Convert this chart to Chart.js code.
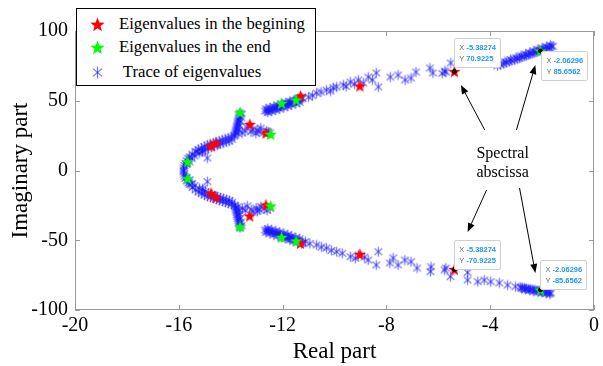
<!DOCTYPE html>
<html>
<head>
<meta charset="utf-8">
<script src="https://cdn.jsdelivr.net/npm/chart.js@4.4.0/dist/chart.umd.min.js"></script>
<style>
  body { margin: 0; background: #fff; }
  #wrap { position: relative; width: 603px; height: 366px; font-family: 'Liberation Serif', 'Times New Roman', serif; }
  .legend { position: absolute; left: 76px; top: 8px; width: 238px; height: 76px; border: 1px solid #000; background: #fff;
            font-family: 'Liberation Serif', 'Times New Roman', serif; font-size: 16px; }
  .legend .row { position: absolute; left: 0; width: 100%; height: 20px; line-height: 20px; }
  .legend img { position: absolute; top: 2px; }
  .legend span { position: absolute; left: 42px; white-space: pre; font-family: 'Liberation Serif', serif; }
  .tip { position: absolute; background: rgba(255,255,255,0.96); border: 1px solid #d0d0d0; border-radius: 2px;
         font: 7.5px 'Liberation Sans', Arial, sans-serif; line-height: 11px; padding: 3px 4px; white-space: nowrap; }
  .tip i { font-style: normal; color: #666; }
  .tip b { color: #1e96f0; }
  .note { position: absolute; font-family: 'Liberation Serif', 'Times New Roman', serif; font-size: 16px; text-align: center; line-height: 19px; width: 90px; }
</style>
</head>
<body>
<div id="wrap">
  <canvas id="chart" width="603" height="366"></canvas>
</div>
<script>
// eigenvalues at the start (red) and at the end (green)
const startEig = [
  [-5.38274, 70.9225], [-9.02, 60.6], [-11.31, 53.4], [-12.64, 26.9], [-13.26, 33.1], [-14.57, 19.7], [-14.76, 17.6],
  [-5.38274, -70.9225], [-9.02, -60.1], [-11.31, -52.2], [-12.64, -24.7], [-13.27, -32.6], [-14.57, -19.2], [-14.76, -16.3]
];
const endEig = [
  [-2.06296, 85.6562], [-11.48, 50.5], [-12.04, 48.2], [-12.46, 25.9], [-13.64, 41.4], [-15.66, 6.3],
  [-2.06296, -85.6562], [-11.48, -50.5], [-12.04, -47.9], [-12.46, -25.4], [-13.64, -40.3], [-15.66, -5.8]
];

// trace of eigenvalues, upper half
const traceUpperLeft = [
  [-15.82, 0.4], [-15.80, 2.0], [-15.78, 3.6], [-15.75, 5.2], [-15.70, 7.0], [-15.64, 8.6], [-15.59, 9.7], [-15.48, 11.8],
  [-15.36, 13.6], [-15.25, 15.1], [-15.13, 16.1], [-15.02, 17.2], [-14.90, 18.3], [-14.79, 19.0], [-14.67, 19.7],
  [-14.56, 20.4], [-14.44, 21.1], [-14.33, 21.9], [-14.21, 22.6], [-14.10, 23.3], [-13.98, 24.0], [-13.87, 24.7],
  [-15.70, 4.4], [-15.59, 6.1], [-15.50, 8.8], [-15.40, 10.4], [-15.21, 12.5], [-15.08, 14.2], [-14.98, 14.7],
  [-14.86, 16.0], [-14.75, 16.8], [-14.62, 17.6], [-14.52, 18.3], [-14.40, 19.1], [-14.29, 19.7], [-14.17, 20.5],
  [-14.06, 21.1], [-13.95, 22.3], [-14.90, 9.0], [-15.10, 13.3], [-15.30, 13.5],
  [-13.64, 41.2], [-13.66, 39.8], [-13.68, 38.4], [-13.70, 37.0], [-13.72, 35.5], [-13.74, 34.1], [-13.76, 32.6],
  [-13.77, 31.2], [-13.79, 29.7], [-13.81, 28.3], [-13.83, 26.9], [-13.84, 25.4],
  [-13.58, 40.5], [-13.60, 37.8], [-13.63, 35.0], [-13.66, 32.0], [-13.69, 29.2], [-13.72, 26.5],
  [-13.56, 26.9], [-13.45, 28.3], [-13.37, 31.2], [-13.22, 27.8], [-13.15, 29.5], [-13.03, 26.7], [-12.98, 29.0],
  [-12.91, 27.8], [-12.84, 30.5], [-12.72, 27.1], [-12.61, 28.3], [-12.55, 27.6], [-12.49, 26.9]
];
const traceUpperMid = [
  [-12.68, 42.6], [-12.61, 43.0], [-12.53, 43.4], [-12.45, 43.7], [-12.38, 44.1], [-12.30, 44.8], [-12.22, 45.2],
  [-12.15, 45.5], [-12.07, 46.2], [-11.99, 46.6], [-11.92, 47.0], [-11.84, 47.7], [-11.76, 48.0], [-11.69, 48.4],
  [-11.61, 49.1], [-11.53, 49.5], [-11.46, 50.2], [-11.38, 50.5], [-11.30, 51.3], [-11.23, 51.6],
  [-12.64, 44.3], [-12.49, 45.0], [-12.34, 45.9], [-12.19, 46.8], [-12.03, 47.8], [-11.88, 48.6], [-11.72, 49.6],
  [-11.57, 50.4], [-11.42, 51.3], [-11.27, 52.3],
  [-12.57, 41.6], [-12.42, 42.4], [-12.26, 43.3], [-12.11, 44.1], [-11.95, 45.2], [-11.80, 46.0], [-11.65, 47.0],
  [-11.49, 47.9], [-11.34, 48.8],
  [-11.00, 52.7], [-10.85, 53.6], [-10.69, 55.6], [-10.52, 56.2], [-10.31, 57.7], [-10.15, 57.0], [-10.05, 59.4],
  [-9.92, 59.9], [-9.66, 61.3], [-9.55, 60.3], [-9.39, 63.4], [-9.23, 62.0], [-9.08, 64.9], [-8.89, 62.7],
  [-8.70, 67.0], [-8.54, 64.9], [-8.39, 69.9], [-8.31, 59.9], [-7.85, 67.0], [-7.55, 68.5], [-7.28, 64.9],
  [-7.05, 66.3], [-6.86, 70.6], [-6.32, 73.5], [-6.21, 69.9], [-5.71, 70.6], [-5.52, 77.1]
];
const traceUpperRight = [
  [-5.75, 71.3], [-5.85, 69.6],
  [-3.72, 75.0], [-3.60, 75.9], [-3.48, 76.5], [-3.38, 77.4], [-3.27, 78.1], [-3.17, 78.6], [-3.06, 79.4],
  [-2.96, 80.1], [-2.87, 80.6], [-2.78, 81.3], [-2.69, 81.9], [-2.60, 82.4], [-2.52, 83.0], [-2.44, 83.6],
  [-2.36, 84.1], [-2.28, 84.6], [-2.20, 85.1], [-2.12, 85.6], [-2.04, 86.2], [-1.96, 86.7], [-1.88, 87.2],
  [-1.80, 87.7], [-1.72, 88.3], [-1.64, 88.8], [-1.58, 89.1],
  [-3.66, 76.6], [-3.43, 78.0], [-3.22, 79.6], [-3.01, 80.9], [-2.82, 82.2], [-2.64, 83.5], [-2.48, 84.6],
  [-2.32, 85.7], [-2.16, 86.8], [-2.00, 87.8], [-1.84, 88.9], [-1.68, 89.9]
];

// trace of eigenvalues, lower half
const traceLowerLeft = [
  [-15.82, -0.8], [-15.80, -2.4], [-15.78, -4.0], [-15.75, -5.6], [-15.70, -7.4], [-15.64, -9.0], [-15.58, -10.1],
  [-15.47, -12.2], [-15.35, -14.0], [-15.24, -15.4], [-15.12, -16.5], [-15.01, -17.6], [-14.89, -18.6], [-14.78, -19.3],
  [-14.66, -20.0], [-14.55, -20.8], [-14.43, -21.5], [-14.32, -22.2], [-14.20, -22.9], [-14.09, -23.6], [-13.97, -24.3],
  [-13.86, -25.0],
  [-15.70, -4.8], [-15.58, -6.6], [-15.49, -9.2], [-15.39, -10.8], [-15.20, -12.9], [-15.07, -14.6], [-14.97, -15.1],
  [-14.85, -16.4], [-14.74, -17.2], [-14.61, -18.0], [-14.51, -18.7], [-14.39, -19.5], [-14.28, -20.1], [-14.16, -20.9],
  [-14.05, -21.5], [-13.94, -22.6], [-14.90, -8.0], [-15.08, -13.0],
  [-13.83, -25.6], [-13.82, -27.1], [-13.80, -28.6], [-13.78, -30.0], [-13.76, -31.5], [-13.75, -32.9], [-13.73, -34.4],
  [-13.71, -35.8], [-13.69, -37.3], [-13.67, -38.7], [-13.65, -40.1], [-13.64, -41.0],
  [-13.58, -39.6], [-13.60, -36.9], [-13.63, -34.0], [-13.66, -31.0], [-13.69, -28.3], [-13.72, -25.9],
  [-13.55, -27.2], [-13.44, -28.6], [-13.36, -25.4], [-13.21, -28.1], [-13.14, -29.8], [-13.02, -27.0], [-12.97, -29.2],
  [-12.90, -28.2], [-12.83, -25.8], [-12.71, -27.5], [-12.60, -28.6], [-12.48, -27.2]
];
const traceLowerMid = [
  [-12.68, -42.7], [-12.61, -43.1], [-12.53, -43.4], [-12.45, -43.8], [-12.38, -44.2], [-12.30, -44.8], [-12.22, -45.2],
  [-12.15, -45.5], [-12.07, -46.1], [-11.99, -46.6], [-11.92, -47.0], [-11.84, -47.6], [-11.76, -48.0], [-11.69, -48.4],
  [-11.61, -49.1], [-11.53, -49.5], [-11.46, -50.1], [-11.38, -50.5], [-11.30, -51.1], [-11.23, -51.6],
  [-12.64, -44.4], [-12.49, -45.1], [-12.34, -46.0], [-12.19, -46.9], [-12.03, -47.9], [-11.88, -48.7], [-11.72, -49.7],
  [-11.57, -50.5], [-11.42, -51.4], [-11.27, -52.4],
  [-12.57, -41.7], [-12.42, -42.5], [-12.26, -43.4], [-12.11, -44.2], [-11.95, -45.3], [-11.80, -46.1], [-11.65, -47.1],
  [-11.49, -48.0], [-11.34, -48.9],
  [-11.12, -51.0], [-10.95, -52.4], [-10.69, -53.4], [-10.50, -54.9], [-10.31, -55.6], [-10.12, -57.3], [-9.92, -58.2],
  [-9.70, -59.4], [-9.39, -61.8], [-9.08, -60.6], [-9.20, -63.0], [-8.70, -64.2], [-8.85, -62.1], [-8.39, -67.7],
  [-8.31, -58.2], [-7.87, -66.3], [-7.74, -62.7], [-7.55, -67.7], [-7.29, -64.2], [-7.05, -65.4], [-6.82, -69.9],
  [-6.28, -69.0], [-6.30, -72.5], [-5.71, -69.9], [-5.53, -76.1]
];
const traceLowerRight = [
  [-5.76, -71.3], [-4.87, -73.1], [-4.87, -78.5], [-4.48, -79.7], [-4.23, -78.5], [-3.98, -79.7], [-3.65, -80.6],
  [-3.33, -82.1], [-3.03, -83.3],
  [-2.84, -83.6], [-2.76, -84.0], [-2.68, -84.3], [-2.60, -84.6], [-2.52, -84.9], [-2.44, -85.1], [-2.36, -85.4],
  [-2.28, -85.6], [-2.20, -85.9], [-2.12, -86.2], [-2.04, -86.5], [-1.96, -86.7], [-1.88, -87.0], [-1.80, -87.2],
  [-1.72, -87.5], [-1.66, -87.7],
  [-2.80, -84.6], [-2.64, -85.3], [-2.48, -85.9], [-2.32, -86.5], [-2.16, -87.1], [-2.00, -87.6], [-1.84, -88.1],
  [-1.70, -88.6]
];

// data tips (spectral abscissa) and the annotation arrows
const tipPoints = [[-5.38274, 70.9225], [-2.06296, 85.6562], [-5.38274, -70.9225], [-2.06296, -85.6562]];
const tipOffsets = [[0, -34], [1, 0], [0, -29], [0, -30]];
const arrows = [
  [[-4.21, 29.0], [-5.13, 61.3]],
  [[-2.99, 29.0], [-2.26, 75.6]],
  [[-4.14, -14.0], [-4.87, -44.1]],
  [[-2.87, -12.5], [-2.26, -73.5]]
];

const legendLabels = ['Eigenvalues in the begining', 'Eigenvalues in the end', ' Trace of eigenvalues'];
const xTitle = 'Real part';
const yTitle = 'Imaginary part';

function makeStar(fill, r) {
  const c = document.createElement('canvas');
  const s = Math.ceil(r * 2 + 2);
  c.width = c.height = s;
  const g = c.getContext('2d');
  g.translate(s / 2, s / 2 + r * 0.08);
  g.beginPath();
  for (let i = 0; i < 10; i++) {
    const rad = i % 2 ? r * 0.42 : r;
    const a = -Math.PI / 2 + i * Math.PI / 5;
    g.lineTo(rad * Math.cos(a), rad * Math.sin(a));
  }
  g.closePath();
  g.fillStyle = fill;
  g.fill();
  return c;
}

function makeAsterisk(color, r, lw) {
  const c = document.createElement('canvas');
  const s = Math.ceil(r * 2 + 3);
  c.width = c.height = s;
  const g = c.getContext('2d');
  g.translate(s / 2, s / 2);
  g.strokeStyle = color;
  g.lineWidth = lw;
  [90, 40, 140].forEach(d => {
    const a = d * Math.PI / 180;
    g.beginPath();
    g.moveTo(-r * Math.cos(a), -r * Math.sin(a));
    g.lineTo(r * Math.cos(a), r * Math.sin(a));
    g.stroke();
  });
  return c;
}

const redStar = makeStar('#ff0000', 6.5);
const greenStar = makeStar('#00ff00', 6.5);
const blueAst = makeAsterisk('rgba(20,20,255,0.55)', 5, 1.3);

const toXY = arr => arr.map(p => ({ x: p[0], y: p[1] }));
const tracePts = [].concat(traceUpperLeft, traceUpperMid, traceUpperRight, traceLowerLeft, traceLowerMid, traceLowerRight);

const boxPlugin = {
  id: 'box',
  beforeDatasetsDraw(chart) {
    const { ctx, chartArea: a, scales: { x, y } } = chart;
    ctx.save();
    ctx.strokeStyle = '#9a9a9a';
    ctx.lineWidth = 1;
    ctx.strokeRect(a.left + 0.5, a.top + 0.5, a.right - a.left - 1, a.bottom - a.top - 1);
    ctx.beginPath();
    x.ticks.forEach(t => {
      const p = Math.round(x.getPixelForValue(t.value)) + 0.5;
      ctx.moveTo(p, a.bottom); ctx.lineTo(p, a.bottom - 5);
      ctx.moveTo(p, a.top); ctx.lineTo(p, a.top + 5);
    });
    y.ticks.forEach(t => {
      const p = Math.round(y.getPixelForValue(t.value)) + 0.5;
      ctx.moveTo(a.left, p); ctx.lineTo(a.left + 5, p);
      ctx.moveTo(a.right, p); ctx.lineTo(a.right - 5, p);
    });
    ctx.stroke();
    ctx.restore();
  },
  afterDraw(chart) {
    const { ctx, scales: { x, y } } = chart;
    ctx.save();
    ctx.strokeStyle = '#000';
    ctx.fillStyle = '#000';
    ctx.lineWidth = 1;
    arrows.forEach(([from, to]) => {
      const x0 = x.getPixelForValue(from[0]), y0 = y.getPixelForValue(from[1]);
      const x1 = x.getPixelForValue(to[0]), y1 = y.getPixelForValue(to[1]);
      const ang = Math.atan2(y1 - y0, x1 - x0);
      const len = 9, w = 3.5;
      const bx = x1 - len * Math.cos(ang), by = y1 - len * Math.sin(ang);
      ctx.beginPath();
      ctx.moveTo(x0, y0); ctx.lineTo(bx, by);
      ctx.stroke();
      ctx.beginPath();
      ctx.moveTo(x1, y1);
      ctx.lineTo(bx + w * Math.sin(ang), by - w * Math.cos(ang));
      ctx.lineTo(bx - w * Math.sin(ang), by + w * Math.cos(ang));
      ctx.closePath();
      ctx.fill();
    });
    ctx.restore();
  }
};

const chart = new Chart(document.getElementById('chart'), {
  type: 'scatter',
  data: {
    datasets: [
      { data: toXY(tipPoints), pointStyle: 'circle', pointRadius: 2, backgroundColor: '#000', borderColor: '#000', order: 0 },
      { data: toXY(endEig), pointStyle: greenStar, pointRadius: 4, order: 1 },
      { data: toXY(startEig), pointStyle: redStar, pointRadius: 4, order: 2 },
      { data: toXY(tracePts), pointStyle: blueAst, pointRadius: 4, order: 3 }
    ]
  },
  options: {
    responsive: false,
    animation: false,
    events: [],
    layout: { padding: { top: 31, right: 6, left: 0, bottom: 0 } },
    plugins: { legend: { display: false }, tooltip: { enabled: false } },
    scales: {
      x: {
        min: -20, max: 0,
        grid: { display: false, drawTicks: false },
        border: { display: false },
        ticks: { stepSize: 4, padding: 4, color: '#000', font: { family: 'Liberation Serif', size: 20 } },
        title: { display: true, text: xTitle, color: '#000', padding: { top: 0, bottom: 0 }, font: { family: 'Liberation Serif', size: 23 } },
        afterFit: s => { s.height = 56; }
      },
      y: {
        min: -100, max: 100,
        grid: { display: false, drawTicks: false },
        border: { display: false },
        ticks: { stepSize: 50, padding: 7, color: '#000', font: { family: 'Liberation Serif', size: 20 } },
        title: { display: true, text: yTitle, color: '#000', padding: { top: 7, bottom: 0 }, font: { family: 'Liberation Serif', size: 23 } },
        afterFit: s => { s.width = 75; }
      }
    }
  },
  plugins: [boxPlugin]
});

// legend box
const wrap = document.getElementById('wrap');
const legend = document.createElement('div');
legend.className = 'legend';
const legendMarks = [makeStar('#ff0000', 7.5), makeStar('#00ff00', 7.5), makeAsterisk('rgba(20,20,255,0.6)', 6, 1.2)];
const rowTops = [5, 28, 53];
const spans = [];
legendLabels.forEach((label, i) => {
  const row = document.createElement('div');
  row.className = 'row';
  row.style.top = rowTops[i] + 'px';
  const img = document.createElement('img');
  img.src = legendMarks[i].toDataURL();
  img.style.left = (20 - legendMarks[i].width / 2) + 'px';
  img.style.top = (10 - legendMarks[i].height / 2) + 'px';
  const span = document.createElement('span');
  span.textContent = label;
  row.appendChild(img);
  row.appendChild(span);
  legend.appendChild(row);
  spans.push(span);
});
wrap.appendChild(legend);
// the first entry spans about 186 px in the reference
const w0 = spans[0].getBoundingClientRect().width;
if (w0 > 0) {
  const fs = Math.min(17, 16 * 186 / w0);
  spans.forEach(s => { s.style.fontSize = fs.toFixed(2) + 'px'; });
}

// data tips
const xs = chart.scales.x, ys = chart.scales.y;
tipPoints.forEach((p, i) => {
  const d = document.createElement('div');
  d.className = 'tip';
  d.innerHTML = '<i>X</i> <b>' + p[0] + '</b><br><i>Y</i> <b>' + p[1] + '</b>';
  d.style.left = (xs.getPixelForValue(p[0]) + tipOffsets[i][0]) + 'px';
  d.style.top = (ys.getPixelForValue(p[1]) + tipOffsets[i][1]) + 'px';
  wrap.appendChild(d);
});

// annotation text
const note = document.createElement('div');
note.className = 'note';
note.innerHTML = 'Spectral<br>abscissa';
note.style.left = (xs.getPixelForValue(-3.52) - 45) + 'px';
note.style.top = (ys.getPixelForValue(19.7)) + 'px';
wrap.appendChild(note);
</script>
</body>
</html>
